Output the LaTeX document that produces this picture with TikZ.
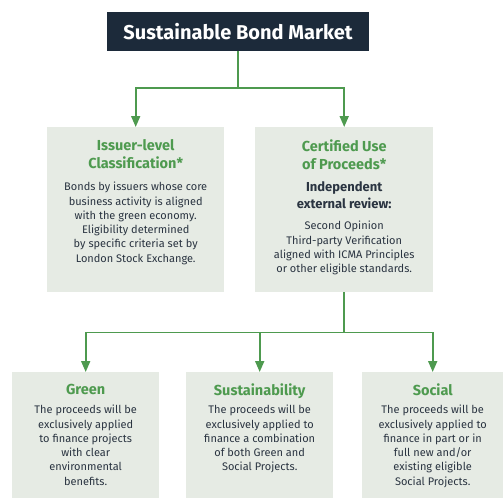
\documentclass[tikz,border=0pt]{standalone}
\usepackage{fontspec}
\setmainfont{Fira Sans}
\usetikzlibrary{arrows.meta, positioning}
\definecolor{bondNavy}{HTML}{1C2A3A}
\definecolor{bondGreen}{HTML}{4E9A4F}
\definecolor{bondPanel}{HTML}{E6EBE4}
\definecolor{bondInk}{HTML}{2A3441}

\begin{document}
\begin{tikzpicture}[x=1pt, y=-1pt,
  panel/.style={fill=bondPanel, inner sep=0pt, anchor=north west},
  heading/.style={text=bondGreen, font=\fontsize{14.5}{18}\selectfont\bfseries, align=center, inner sep=0pt},
  subhead/.style={text=bondInk, font=\fontsize{13}{17}\selectfont\bfseries, align=center, inner sep=0pt},
  blurb/.style={text=bondInk, font=\fontsize{11}{14.3}\selectfont, align=center, inner sep=0pt},
  link/.style={draw=bondGreen, line width=1.8pt},
  feed/.style={link, -{Triangle[width=9pt, length=11pt]}}]
  \useasboundingbox (0,0) rectangle (503,498);
  % \fill[white] (0,0) rectangle (503,498);
  \node[fill=bondNavy, text=white, font=\fontsize{20}{24}\selectfont\bfseries, minimum width=262pt, minimum height=39pt, inner sep=0pt] (market) at (238,31.5) {Sustainable Bond Market};

  \node[panel, minimum width=177pt, minimum height=165pt] (issuer) at (47,127) {};
  \node[panel, minimum width=178pt, minimum height=165pt] (certified) at (255,127) {};
  \node[panel, minimum width=147pt, minimum height=126pt] (green) at (12,372) {};
  \node[panel, minimum width=147pt, minimum height=126pt] (sustain) at (186,372) {};
  \node[panel, minimum width=141pt, minimum height=126pt] (social) at (362,372) {};

  \node[heading, below=12.5pt of issuer.north] (issuerhead) {Issuer-level\\Classification*};
  \node[blurb, below=55pt of issuer.north] (issuerbody) {Bonds by issuers whose core\\business activity is aligned\\with the green economy.\\Eligibility determined\\by specific criteria set by\\London Stock Exchange.};

  \node[heading, below=12.5pt of certified.north] (certhead) {Certified Use\\of Proceeds*};
  \node[subhead, below=54.5pt of certified.north] (certsub) {Independent\\external review:};
  \node[blurb, below=94pt of certified.north] (certbody) {Second Opinion\\Third-party Verification\\aligned with ICMA Principles\\or other eligible standards.};

  \node[heading, below=11.5pt of green.north] (greenhead) {Green};
  \node[blurb, below=33pt of green.north] (greenbody) {The proceeds will be\\exclusively applied\\to finance projects\\with clear\\environmental\\benefits.};

  \node[heading, below=11.5pt of sustain.north] (sustainhead) {Sustainability};
  \node[blurb, below=33pt of sustain.north] (sustainbody) {The proceeds will be\\exclusively applied to\\finance a combination\\of both Green and\\Social Projects.};

  \node[heading, below=11.5pt of social.north] (socialhead) {Social};
  \node[blurb, below=33pt of social.north] (socialbody) {The proceeds will be\\exclusively applied to\\finance in part or in\\full new and/or\\existing eligible\\Social Projects.};

  % connectors
  \coordinate (fork) at (238,88);
  \draw[link] (market.south) -- (fork);
  \draw[feed] (fork) -| (issuer.north);
  \draw[feed] (fork) -| (certified.north);
  \path (certified.south) ++(0,40) coordinate (forklow);
  \draw[link] (certified.south) -- (forklow);
  \draw[feed] (forklow) -| (green.north);
  \draw[feed] (forklow) -| (sustain.north);
  \draw[feed] (forklow) -| (social.north);
\end{tikzpicture}
\end{document}
